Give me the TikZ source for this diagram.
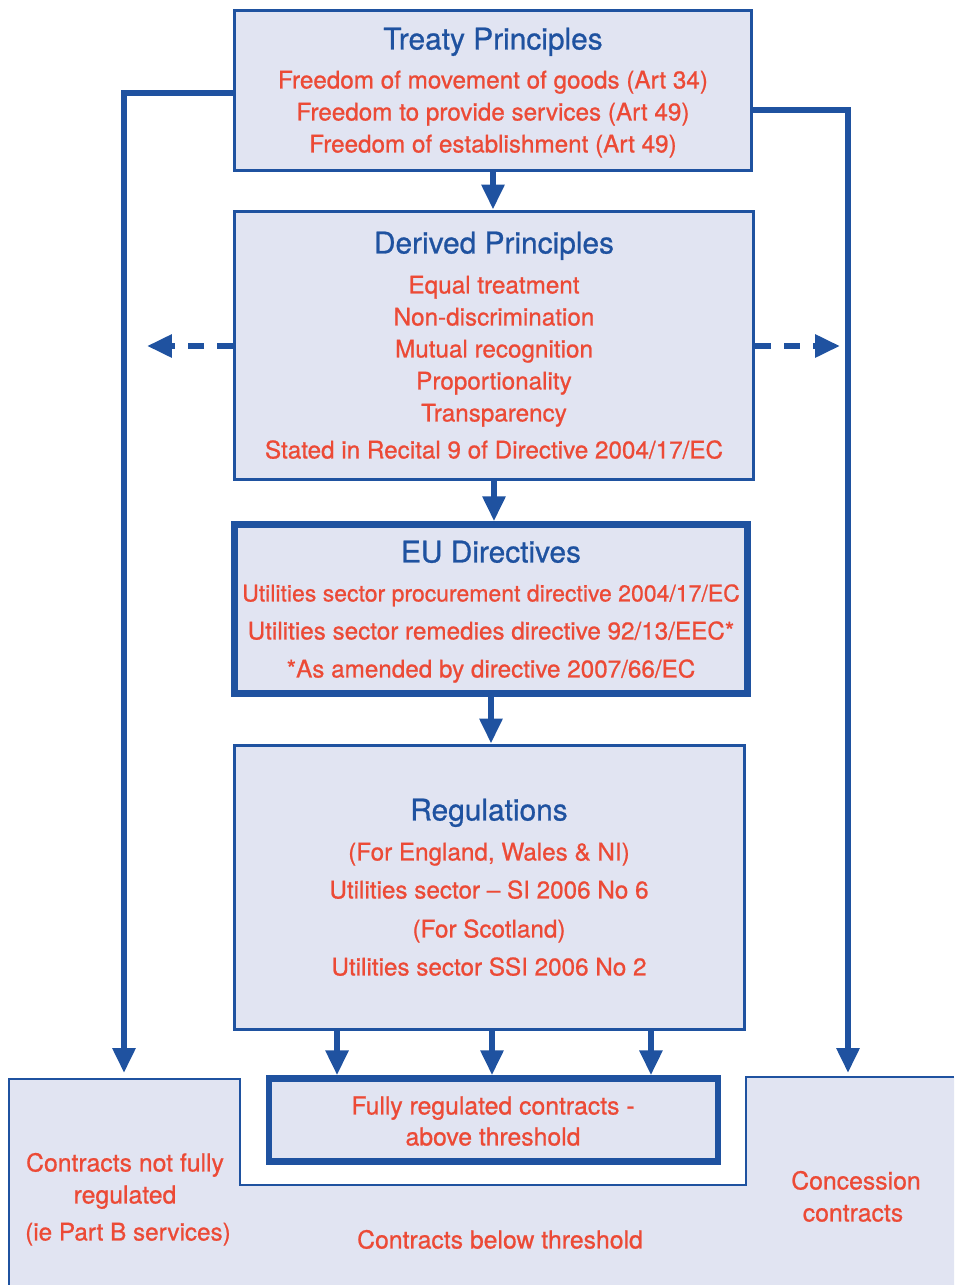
\documentclass[tikz,border=0pt]{standalone}
\usepackage{fontspec}
\setmainfont{TeX Gyre Heros}
\newfontfamily\lawFont{TeX Gyre Heros}[Ligatures=TeX, UprightFeatures={FakeBold=0.8}]
\usepackage{tikz}
\usetikzlibrary{arrows.meta}
\definecolor{lawBlue}{RGB}{31, 82, 160}
\definecolor{lawRed}{RGB}{236, 74, 54}
\definecolor{lawFill}{RGB}{225, 228, 242}
\tikzset{myBox/.style={draw=lawBlue, fill=lawFill, line width=0.6mm, inner sep=0pt}}
\tikzset{myBoldBox/.style={myBox, line width=1.3mm}}
\tikzset{myTitle/.style={text=lawBlue, font=\lawFont\fontsize{17}{20}\selectfont, text height=1.4ex, text depth=0pt, inner sep=0pt}}
\tikzset{myLine/.style={text=lawRed, font=\lawFont\fontsize{13.8}{16}\selectfont, text height=1.4ex, text depth=0pt, inner sep=0pt}}
\tikzset{myNarrowLine/.style={myLine, font=\lawFont\fontsize{13.1}{16}\selectfont}}
\tikzset{myWideLine/.style={myLine, font=\lawFont\fontsize{14.1}{16}\selectfont}}
\tikzset{myLink/.style={draw=lawBlue, line width=1.2mm, -{Triangle[length=5mm, width=4.4mm]}}}
\tikzset{myDash/.style={myLink, dash pattern=on 3.2mm off 2.6mm}}

\begin{document}
\begin{tikzpicture}[x=0.02cm, y=-0.02cm]
	\useasboundingbox (0,0) rectangle (954,1285);

	\node[myBox, minimum width=10.36cm, minimum height=3.22cm] (treaty) at (493,90.5) {};
	\node[myBox, minimum width=10.4cm, minimum height=5.38cm] (derived) at (494,345.5) {};
	\node[myBoldBox, minimum width=10.26cm, minimum height=3.38cm] (directives) at (491,609) {};
	\node[myBox, minimum width=10.22cm, minimum height=5.7cm] (regs) at (489.5,887.5) {};

	% outcomes at the bottom
	\fill[lawFill] (9,1285) -- (9,1079) -- (240,1079) -- (240,1185) -- (746,1185) -- (746,1077) -- (954,1077) -- (954,1285) -- cycle;
	\draw[lawBlue, line width=0.5mm] (9,1285) -- (9,1079) -- (240,1079) -- (240,1185) -- (746,1185) -- (746,1077) -- (954,1077);
	\node[myBoldBox, minimum width=8.98cm, minimum height=1.66cm] (fully) at (493.5,1120) {};
	\coordinate (notFullyTop) at (124,1073);
	\coordinate (concessionTop) at (848,1073);

	\node[myTitle] (treatyT) at (493,43) {Treaty Principles};
	\node[myLine] (treatyA) at (493,82) {Freedom of movement of goods (Art 34)};
	\node[myLine] (treatyB) at (493,114) {Freedom to provide services (Art 49)};
	\node[myLine] (treatyC) at (493,146) {Freedom of establishment (Art 49)};

	\node[myTitle] (derivedT) at (494,247) {Derived Principles};
	\node[myLine] (derivedA) at (494,287) {Equal treatment};
	\node[myLine] (derivedB) at (494,319) {Non-discrimination};
	\node[myLine] (derivedC) at (494,351) {Mutual recognition};
	\node[myLine] (derivedD) at (494,383) {Proportionality};
	\node[myLine] (derivedE) at (494,415) {Transparency};
	\node[myLine] (derivedF) at (494,452) {Stated in Recital 9 of Directive 2004/17/EC};

	\node[myTitle] (directivesT) at (491,556) {EU Directives};
	\node[myNarrowLine] (directivesA) at (491,595) {Utilities sector procurement directive 2004/17/EC};
	\node[myLine] (directivesB) at (491,633) {Utilities sector remedies directive 92/13/EEC*};
	\node[myLine] (directivesC) at (491,671) {*As amended by directive 2007/66/EC};

	\node[myTitle] (regsT) at (489,814) {Regulations};
	\node[myLine] (regsA) at (489,854) {(For England, Wales \& NI)};
	\node[myLine] (regsB) at (489,892) {Utilities sector -- SI 2006 No 6};
	\node[myLine] (regsC) at (489,931) {(For Scotland)};
	\node[myLine] (regsD) at (489,969) {Utilities sector SSI 2006 No 2};

	\node[myWideLine] (fullyA) at (493,1108) {Fully regulated contracts -};
	\node[myWideLine] (fullyB) at (493,1139) {above threshold};
	\node[myWideLine] (notFullyA) at (125,1165) {Contracts not fully};
	\node[myWideLine] (notFullyB) at (125,1197) {regulated};
	\node[myLine] (notFullyC) at (128,1234) {(ie Part B services)};
	\node[myWideLine] (concessionA) at (856,1183) {Concession};
	\node[myWideLine] (concessionB) at (853,1215) {contracts};
	\node[myWideLine] (belowT) at (500,1242) {Contracts below threshold};

	\draw[myLink] (treaty.south) -- (treaty.south |- derived.north);
	\draw[myLink] (derived.south) -- (derived.south |- directives.north);
	\draw[myLink] (directives.south) -- (directives.south |- regs.north);
	\draw[myLink] ([xshift=-3.05cm]regs.south) -- ([xshift=-3.05cm]regs.south |- fully.north);
	\draw[myLink] ([xshift=0.05cm]regs.south) -- ([xshift=0.05cm]regs.south |- fully.north);
	\draw[myLink] ([xshift=3.23cm]regs.south) -- ([xshift=3.23cm]regs.south |- fully.north);
	\draw[myLink] ([yshift=-0.05cm]treaty.west) -| (notFullyTop);
	\draw[myLink] ([yshift=-0.39cm]treaty.east) -| (concessionTop);

	\coordinate (dashLeft) at (147,346);
	\coordinate (dashRight) at (840,346);
	\draw[myDash] (derived.west |- dashLeft) -- (dashLeft);
	\draw[myDash] (derived.east |- dashRight) -- (dashRight);
\end{tikzpicture}
\end{document}
